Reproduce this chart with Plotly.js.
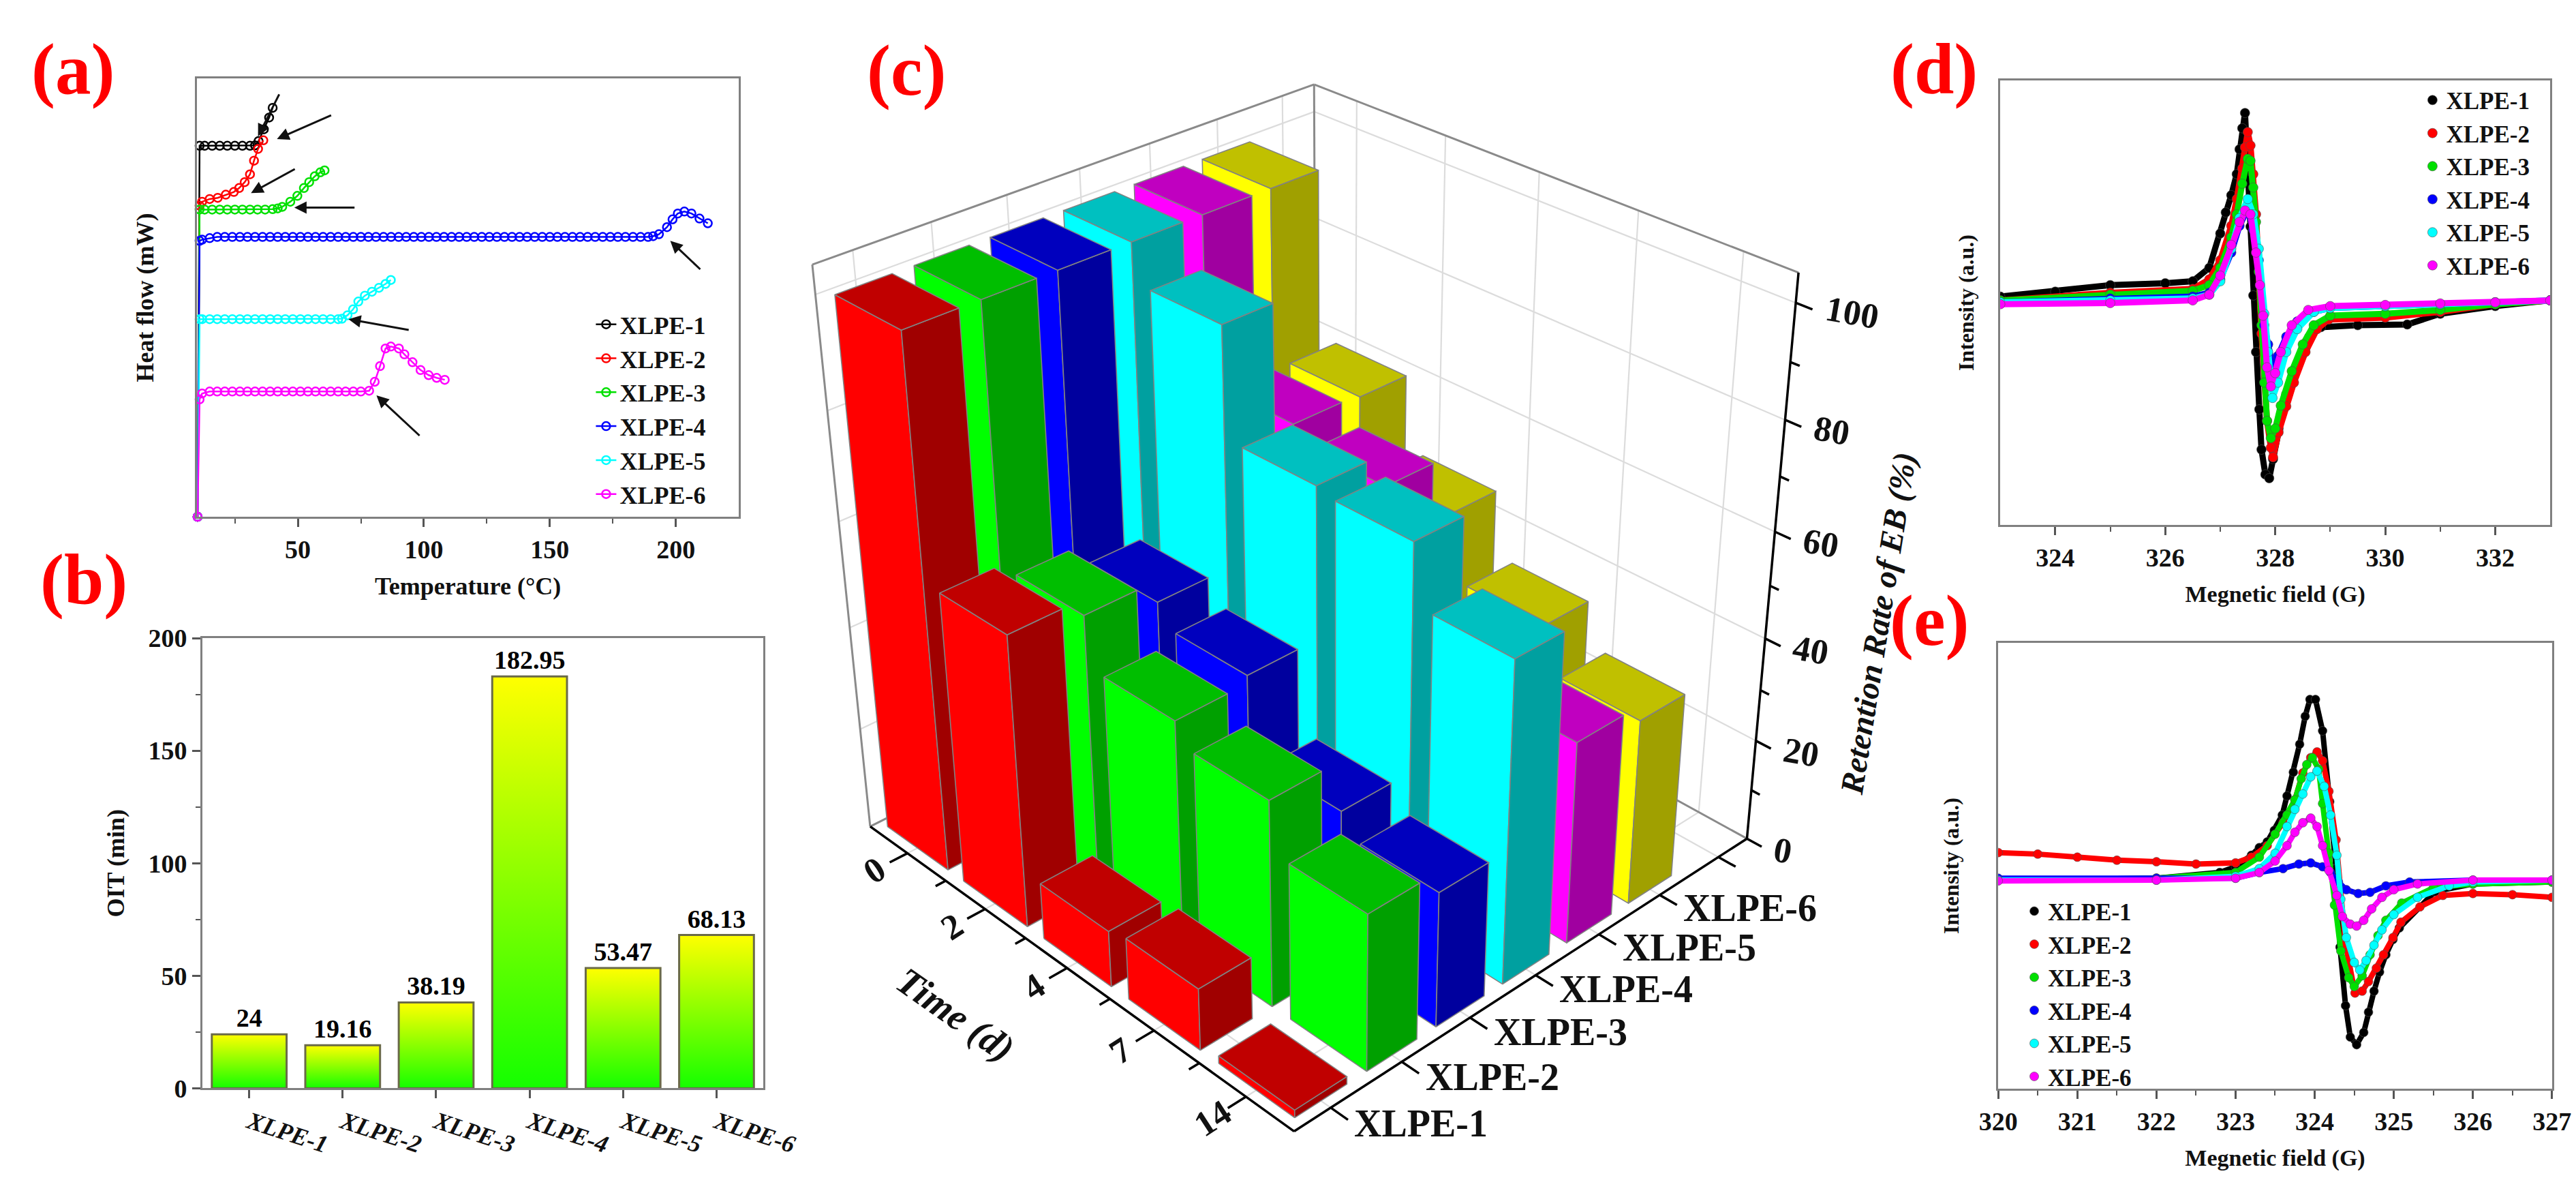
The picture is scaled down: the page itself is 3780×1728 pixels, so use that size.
<!DOCTYPE html>
<html><head><meta charset="utf-8">
<script src="https://cdn.plot.ly/plotly-3.0.1.min.js"></script>
<style>html,body{margin:0;padding:0;background:#fff;}#chart{width:3780px;height:1728px;}</style>
</head><body><div id="chart"></div>
<script>
// ================= DATA =================
const dscT1 = [10.2, 11, 13, 16, 19, 22, 25, 28, 31, 33, 34.4, 36.5, 38.6, 40];
const dscH1 = [0, 94.8, 94.8, 94.8, 94.8, 94.8, 94.8, 94.8, 94.8, 94.9, 96, 99, 102, 104.5];
const dscT2 = [10.2, 11, 12, 15, 18.2, 21.4, 24.6, 26.7, 28.9, 31, 32.6, 34.2, 36.3];
const dscH2 = [0, 79.5, 80.5, 81.2, 81.5, 82.3, 83, 84, 85.5, 87.5, 91, 94, 96.2];
const dscT3 = [10.2, 11, 13, 16, 19, 22, 25, 28, 31, 34, 37, 40, 42, 43.8, 47, 49.8, 52.4, 54.5, 56.7, 58.9, 60.6];
const dscH3 = [0, 78.5, 78.5, 78.5, 78.5, 78.5, 78.5, 78.5, 78.5, 78.5, 78.5, 78.6, 78.8, 79.2, 80.5, 82, 84, 85.5, 87, 88, 88.5];
const dscT4 = [10.2, 11, 12, 15, 18, 21, 24, 27, 30, 33, 36, 39, 42, 45, 48, 51, 54, 57, 60, 63, 66, 69, 72, 75, 78, 81, 84, 87, 90, 93, 96, 99, 102, 105, 108, 111, 114, 117, 120, 123, 126, 129, 132, 135, 138, 141, 144, 147, 150, 153, 156, 159, 162, 165, 168, 171, 174, 177, 180, 183, 186, 189, 191, 193.3, 196.5, 198.7, 200.8, 203.4, 206.2, 209.4, 212.7];
const dscH4 = [0, 70.5, 70.8, 71.2, 71.5, 71.5, 71.5, 71.5, 71.5, 71.5, 71.5, 71.5, 71.5, 71.5, 71.5, 71.5, 71.5, 71.5, 71.5, 71.5, 71.5, 71.5, 71.5, 71.5, 71.5, 71.5, 71.5, 71.5, 71.5, 71.5, 71.5, 71.5, 71.5, 71.5, 71.5, 71.5, 71.5, 71.5, 71.5, 71.5, 71.5, 71.5, 71.5, 71.5, 71.5, 71.5, 71.5, 71.5, 71.5, 71.5, 71.5, 71.5, 71.5, 71.5, 71.5, 71.5, 71.5, 71.5, 71.5, 71.5, 71.5, 71.5, 71.7, 72.2, 74, 76, 77.5, 78, 77.5, 76.2, 75];
const dscT5 = [10.2, 11, 12, 15, 18, 21, 24, 27, 30, 33, 36, 39, 42, 45, 48, 51, 54, 57, 60, 63, 66, 67.5, 69.7, 71.9, 74, 76.6, 79.4, 82.2, 84.8, 86.9];
const dscH5 = [0, 50.5, 50.5, 50.5, 50.5, 50.5, 50.5, 50.5, 50.5, 50.5, 50.5, 50.5, 50.5, 50.5, 50.5, 50.5, 50.5, 50.5, 50.5, 50.5, 50.5, 50.6, 51.5, 53, 55, 56.5, 57.5, 58.5, 59.5, 60.5];
const dscT6 = [10.2, 11, 12, 15, 18, 21, 24, 27, 30, 33, 36, 39, 42, 45, 48, 51, 54, 57, 60, 63, 66, 69, 72, 75, 78.3, 80.5, 82.6, 84.8, 86.9, 90.1, 92.3, 95.5, 98.7, 101.9, 105.1, 108.3];
const dscH6 = [0, 30, 31.5, 32, 32, 32, 32, 32, 32, 32, 32, 32, 32, 32, 32, 32, 32, 32, 32, 32, 32, 32, 32, 32, 32.2, 34.5, 38.5, 43, 43.5, 43, 41.5, 39.5, 37.5, 36.2, 35.5, 35];

const sampleNames = ['XLPE-1', 'XLPE-2', 'XLPE-3', 'XLPE-4', 'XLPE-5', 'XLPE-6'];
const oitValues = [24, 19.16, 38.19, 182.95, 53.47, 68.13];
const oitLabels = ['24', '19.16', '38.19', '182.95', '53.47', '68.13'];

const timeLabels = ['0', '2', '4', '7', '14'];
const retXLPE1 = [100, 56, 11, 12, 1.5];
const retXLPE2 = [100, 53, 43.5, 39.5, 30];
const retXLPE3 = [100, 49, 45, 30, 26];
const retXLPE4 = [100, 93, 73, 72, 61];
const retXLPE5 = [100, 70, 67, 35, 39];
const retXLPE6 = [100, 69.5, 56, 44, 36];
const zTicks = [0, 20, 40, 60, 80, 100];
const zMinorTicks = [10, 30, 50, 70, 90];

const dX1 = [323, 324, 325, 326, 326.5, 326.8, 327.0, 327.1, 327.2, 327.3, 327.35, 327.4, 327.45, 327.55, 327.6, 327.65, 327.71, 327.75, 327.82, 327.89, 327.96, 328.06, 328.2, 328.41, 328.62, 328.83, 329.5, 330.4, 331, 332, 333];
const dY1 = [59.7, 61, 62.7, 63.2, 63.7, 67.2, 76.2, 81.7, 86.2, 91.7, 98.2, 103.7, 107.7, 78, 60, 45.2, 30.2, 19.7, 13.2, 12.2, 17.2, 25.2, 34.2, 42.2, 49.2, 51.7, 52.2, 52.4, 55.2, 57.2, 58.7];
const dX2 = [323, 325, 326.5, 326.8, 327.0, 327.2, 327.3, 327.4, 327.45, 327.5, 327.55, 327.6, 327.65, 327.75, 327.85, 327.92, 327.96, 328.06, 328.2, 328.34, 328.55, 328.76, 328.97, 330, 331, 332, 333];
const dY2 = [58.7, 60.7, 61.7, 64.2, 69.2, 78.2, 85.2, 93.2, 98.7, 102.7, 99.2, 91.7, 81.2, 50, 27.2, 20.2, 17.7, 24.2, 31, 37.2, 45.2, 51.2, 53.7, 54.2, 55.7, 57.7, 58.7];
const dX3 = [323, 325, 326.5, 326.8, 327.0, 327.2, 327.3, 327.4, 327.5, 327.55, 327.6, 327.65, 327.7, 327.75, 327.8, 327.85, 327.92, 328.0, 328.1, 328.3, 328.5, 328.7, 329, 330, 331, 332, 333];
const dY3 = [58.7, 60.2, 61.2, 62.7, 67.2, 75.2, 81.2, 89.2, 95.7, 95.2, 88.2, 79.2, 66.2, 52.2, 37.2, 27.2, 22.7, 25.2, 31.2, 40.2, 47.2, 52.2, 54.7, 55.2, 56.2, 57.7, 58.7];
const dX4 = [323, 325, 326.5, 326.8, 327.0, 327.2, 327.35, 327.5, 327.6, 327.7, 327.8, 327.87, 327.95, 328.05, 328.2, 328.4, 328.7, 329, 330, 331, 332, 333];
const dY4 = [58.2, 59.2, 59.7, 60.7, 64.2, 71.2, 78.2, 82.7, 77.2, 69.2, 52.2, 47.2, 41.7, 44.2, 49.2, 53.2, 55.7, 56.7, 57.2, 57.7, 58.2, 58.7];
const dX5 = [323, 325, 326.5, 326.8, 327.0, 327.2, 327.35, 327.5, 327.6, 327.7, 327.8, 327.87, 327.95, 328.05, 328.2, 328.4, 328.7, 329, 330, 331, 332, 333];
const dY5 = [58.2, 58.7, 59.2, 60.2, 63.7, 72.2, 80.2, 85.2, 81.2, 72.2, 55.2, 45.2, 33.2, 37.2, 45.2, 51.2, 55.7, 56.7, 57.2, 57.7, 58.2, 58.7];
const dX6 = [323, 325, 326.5, 326.8, 327.0, 327.2, 327.35, 327.45, 327.55, 327.65, 327.72, 327.78, 327.85, 327.92, 328.0, 328.1, 328.3, 328.6, 329, 330, 331, 332, 333];
const dY6 = [57.7, 58, 58.7, 60.2, 65.2, 73.2, 79.2, 82.2, 81.2, 71.2, 62.7, 54.7, 41.2, 36.2, 39.7, 45.2, 52.2, 56.2, 57.2, 57.5, 57.9, 58.2, 58.7];

const eX1 = [320, 322, 322.8, 323.0, 323.2, 323.3, 323.4, 323.49, 323.59, 323.65, 323.73, 323.81, 323.88, 323.94, 324.01, 324.1, 324.19, 324.27, 324.32, 324.39, 324.45, 324.53, 324.62, 324.68, 324.75, 324.82, 324.9, 324.99, 325.07, 325.52, 326.0, 327];
const eY1 = [54.5, 55, 56.5, 58, 61, 63, 64.5, 67.5, 71.5, 76.5, 82.7, 90, 97.3, 101.7, 101.7, 93.5, 75, 57.5, 37, 21.7, 13.5, 11.5, 14.7, 20, 25.5, 30.5, 35, 39, 42, 51.5, 53.5, 54];
const eX2 = [320, 320.5, 321, 321.5, 322, 322.5, 323, 323.2, 323.4, 323.6, 323.75, 323.85, 323.95, 324.03, 324.1, 324.18, 324.27, 324.39, 324.51, 324.6, 324.68, 324.78, 324.87, 324.99, 325.09, 325.33, 325.62, 326.0, 326.5, 327];
const eY2 = [61.7, 61.3, 60.5, 59.7, 59.3, 58.7, 59, 60.5, 63.5, 69.5, 75.5, 82.5, 86.5, 88, 85.7, 77.7, 65, 37.7, 25, 25.5, 28, 31.5, 35, 39.5, 43.5, 47.5, 50.5, 51, 50.7, 50];
const eX3 = [320, 322, 323, 323.3, 323.5, 323.65, 323.75, 323.83, 323.9, 323.97, 324.05, 324.1, 324.18, 324.25, 324.33, 324.43, 324.5, 324.6, 324.7, 324.8, 324.9, 325.1, 325.5, 326, 327];
const eY3 = [54.5, 55, 56.5, 60.5, 66.5, 71.5, 75.5, 81, 84.7, 86.5, 83.5, 74.5, 61.5, 48, 36, 29, 26.7, 29.5, 35, 40, 44, 48.5, 52.5, 53.5, 54];
const eX4 = [320, 322, 323, 323.3, 323.6, 323.8, 323.95, 324.1, 324.2, 324.3, 324.4, 324.55, 324.7, 324.9, 325.2, 326, 327];
const eY4 = [55, 55, 55, 56.5, 57.5, 58.7, 59, 58, 56.5, 54, 52, 51, 51.3, 53, 54, 54.5, 54.5];
const eX5 = [320, 322, 323, 323.3, 323.5, 323.65, 323.75, 323.85, 323.95, 324.03, 324.12, 324.2, 324.28, 324.33, 324.4, 324.5, 324.57, 324.65, 324.75, 324.85, 325, 325.3, 325.7, 326, 327];
const eY5 = [54.5, 54.5, 55.5, 57.5, 61.5, 68.5, 73, 77, 81.5, 83, 79, 71.5, 61, 49.5, 39.5, 33, 31, 33.5, 37.5, 41.5, 45.5, 50, 53, 54, 54.5];
const eX6 = [320, 322, 323, 323.3, 323.5, 323.65, 323.75, 323.85, 323.95, 324.03, 324.1, 324.18, 324.28, 324.35, 324.45, 324.53, 324.62, 324.72, 324.85, 325, 325.3, 326, 327];
const eY6 = [54.3, 54.5, 55, 56.5, 59.5, 63.5, 67, 69.5, 70.7, 68.5, 63.5, 57, 50.5, 45, 43, 42.5, 44, 47, 50, 52, 53.5, 54.5, 54.5];

// ================= STYLE =================
const SERIF = 'Liberation Serif, Times New Roman, serif';
const lineColors = ['#000000', '#FF0000', '#00E000', '#0000FF', '#00FFFF', '#FF00FF'];
const barColors = [
  {f: '#FF0000', s: '#A00000', t: '#C00000'},
  {f: '#00FF00', s: '#00A000', t: '#00BE00'},
  {f: '#0000FF', s: '#00009E', t: '#0000BE'},
  {f: '#00FFFF', s: '#00A0A0', t: '#00C0C0'},
  {f: '#FF00FF', s: '#A000A0', t: '#C000C0'},
  {f: '#FFFF00', s: '#A0A000', t: '#C0C000'}
];
const ZMAX = 105;
const NSLOT = 7;             // sample axis has 7 slots (6 samples + one empty slot)
const HALF_T = 0.40, HALF_S = 0.36;
// camera calibration for panel (c): [X, Y, Z (fractions of the box), pixel x, pixel y]
const CAL = [[0, 0, 0, 1275, 1215], [1, 0, 0, 1897, 1660], [1, 1, 0, 2561, 1228], [0, 0, 1, 1193, 387],
  [0, 1, 1, 1927, 124], [1, 1, 1, 2638, 399], [1, 1, 100 / 105, 2635, 445], [1, 1, 60 / 105, 2606, 782],
  [1, 1, 20 / 105, 2580, 1087], [0.18, 0.02, 0, 1394, 1274]];

function solveDLT(pts) {
  const n = 11, M = [...Array(n)].map(() => Array(n + 1).fill(0));
  const rows = [];
  pts.forEach(([X, Y, Z, u, v]) => {
    const U = (u - 1900) / 1000, V = (v - 900) / 1000;
    rows.push([[X, Y, Z, 1, 0, 0, 0, 0, -U * X, -U * Y, -U * Z], U]);
    rows.push([[0, 0, 0, 0, X, Y, Z, 1, -V * X, -V * Y, -V * Z], V]);
  });
  rows.forEach(([a, b]) => { for (let i = 0; i < n; i++) { for (let j = 0; j < n; j++) M[i][j] += a[i] * a[j]; M[i][n] += a[i] * b; } });
  for (let c = 0; c < n; c++) {
    let p = c; for (let r = c + 1; r < n; r++) if (Math.abs(M[r][c]) > Math.abs(M[p][c])) p = r;
    const tmp = M[c]; M[c] = M[p]; M[p] = tmp;
    for (let r = 0; r < n; r++) { if (r === c) continue; const f = M[r][c] / M[c][c]; for (let k = c; k <= n; k++) M[r][k] -= f * M[c][k]; }
  }
  return M.map((row, i) => row[n] / row[i]);
}
const PM = solveDLT(CAL);
function toPx(X, Y, Z) {
  const w = PM[8] * X + PM[9] * Y + PM[10] * Z + 1;
  return [(PM[0] * X + PM[1] * Y + PM[2] * Z + PM[3]) / w * 1000 + 1900, (PM[4] * X + PM[5] * Y + PM[6] * Z + PM[7]) / w * 1000 + 900];
}
const NT = timeLabels.length;
const tX = i => (i + 0.5) / NT, sY = j => (j + 0.5) / NSLOT, zN = v => v / ZMAX;

const traces = [];
const OV = {xaxis: 'x5', yaxis: 'y5', hoverinfo: 'skip', showlegend: false};
function segTrace(segs, color, width) {
  const xs = [], ys = [];
  segs.forEach(([a, b]) => { const pa = toPx(...a), pb = toPx(...b); xs.push(pa[0], pb[0], null); ys.push(pa[1], pb[1], null); });
  return Object.assign({type: 'scatter', mode: 'lines', x: xs, y: ys, line: {color: color, width: width}}, OV);
}
function polyTrace(pts, fill) {
  const xs = [], ys = [];
  pts.forEach(p => { const q = toPx(...p); xs.push(q[0]); ys.push(q[1]); });
  xs.push(xs[0]); ys.push(ys[0]);
  return Object.assign({type: 'scatter', mode: 'lines', x: xs, y: ys, fill: 'toself', fillcolor: fill,
    line: {color: '#828282', width: 1.6}}, OV);
}

// ---- (c) grid, walls
const grid = [];
for (let j = 0; j < NSLOT; j++) { grid.push([[0, sY(j), 0], [0, sY(j), 1]]); grid.push([[0, sY(j), 0], [1, sY(j), 0]]); }
for (let i = 0; i < NT; i++) { grid.push([[tX(i), 1, 0], [tX(i), 1, 1]]); grid.push([[tX(i), 0, 0], [tX(i), 1, 0]]); }
zTicks.forEach(v => { grid.push([[0, 0, zN(v)], [0, 1, zN(v)]]); grid.push([[0, 1, zN(v)], [1, 1, zN(v)]]); });
traces.push(segTrace(grid, '#dcdcdc', 2.2));
traces.push(segTrace([[[0, 0, 0], [0, 0, 1]], [[0, 1, 0], [0, 1, 1]], [[0, 0, 1], [0, 1, 1]], [[0, 1, 1], [1, 1, 1]],
  [[0, 0, 0], [0, 1, 0]], [[0, 1, 0], [1, 1, 0]]], '#8a8a8a', 3));

// ---- (c) bars (back to front)
const retAll = [retXLPE1, retXLPE2, retXLPE3, retXLPE4, retXLPE5, retXLPE6];
for (let i = 0; i < NT; i++) {
  for (let j = retAll.length - 1; j >= 0; j--) {
    const h = zN(retAll[j][i]), c = barColors[j];
    const x0 = (i + 0.5 - HALF_T) / NT, x1 = (i + 0.5 + HALF_T) / NT;
    const y0 = (j + 0.5 - HALF_S) / NSLOT, y1 = (j + 0.5 + HALF_S) / NSLOT;
    traces.push(polyTrace([[x0, y0, 0], [x1, y0, 0], [x1, y0, h], [x0, y0, h]], c.f));
    traces.push(polyTrace([[x1, y0, 0], [x1, y1, 0], [x1, y1, h], [x1, y0, h]], c.s));
    traces.push(polyTrace([[x0, y0, h], [x1, y0, h], [x1, y1, h], [x0, y1, h]], c.t));
  }
}
// ---- (c) axes and ticks
const axSegs = [[[0, 0, 0], [1, 0, 0]], [[1, 0, 0], [1, 1, 0]], [[1, 1, 0], [1, 1, 1]]];
for (let i = 0; i < NT; i++) axSegs.push([[tX(i), 0, 0], [tX(i), -0.035, 0]]);
for (let i = 1; i < NT; i++) axSegs.push([[i / NT, 0, 0], [i / NT, -0.02, 0]]);
for (let j = 0; j < NSLOT; j++) axSegs.push([[1, sY(j), 0], [1.035, sY(j), 0]]);
zTicks.forEach(v => axSegs.push([[1, 1, zN(v)], [1.03, 1, zN(v)]]));
zMinorTicks.forEach(v => axSegs.push([[1, 1, zN(v)], [1.017, 1, zN(v)]]));
traces.push(segTrace(axSegs, '#000000', 3.5));

// ---- (a)
const dscT = [dscT1, dscT2, dscT3, dscT4, dscT5, dscT6];
const dscH = [dscH1, dscH2, dscH3, dscH4, dscH5, dscH6];
sampleNames.forEach((n, k) => {
  traces.push({type: 'scatter', mode: 'lines+markers', x: dscT[k], y: dscH[k], name: n,
    xaxis: 'x', yaxis: 'y', legend: 'legend',
    line: {color: lineColors[k], width: 2.5},
    marker: {symbol: 'circle-open', size: 12, color: lineColors[k], line: {width: 2.5, color: lineColors[k]}},
    hoverinfo: 'skip', cliponaxis: false});
});
// ---- (b)
const barIdx = sampleNames.map((_, i) => i);
traces.push({type: 'bar', x: barIdx, y: oitValues, text: oitLabels, textposition: 'outside',
  textfont: {family: SERIF, size: 38, color: '#000', weight: 'bold'},
  xaxis: 'x2', yaxis: 'y2', width: 0.8, showlegend: false, cliponaxis: false,
  marker: {color: 'rgba(0,0,0,0)', line: {color: '#6a6a48', width: 3}}, hoverinfo: 'skip'});
// ---- (d), (e)
const dX = [dX1, dX2, dX3, dX4, dX5, dX6], dY = [dY1, dY2, dY3, dY4, dY5, dY6];
const eX = [eX1, eX2, eX3, eX4, eX5, eX6], eY = [eY1, eY2, eY3, eY4, eY5, eY6];
sampleNames.forEach((n, k) => {
  traces.push({type: 'scatter', mode: 'lines', x: dX[k], y: dY[k], xaxis: 'x3', yaxis: 'y3', showlegend: false,
    line: {color: lineColors[k], width: 9}, hoverinfo: 'skip'});
  traces.push({type: 'scatter', mode: 'markers', x: dX[k], y: dY[k], xaxis: 'x3', yaxis: 'y3', name: n, legend: 'legend2',
    marker: {size: 14, color: lineColors[k], line: {width: 1, color: 'rgba(80,80,80,0.6)'}}, hoverinfo: 'skip'});
});
sampleNames.forEach((n, k) => {
  traces.push({type: 'scatter', mode: 'lines', x: eX[k], y: eY[k], xaxis: 'x4', yaxis: 'y4', showlegend: false,
    line: {color: lineColors[k], width: 8}, hoverinfo: 'skip'});
  traces.push({type: 'scatter', mode: 'markers', x: eX[k], y: eY[k], xaxis: 'x4', yaxis: 'y4', name: n, legend: 'legend3',
    marker: {size: 13, color: lineColors[k], line: {width: 1, color: 'rgba(80,80,80,0.6)'}}, hoverinfo: 'skip'});
});

// ================= LAYOUT =================
const tickFont = {family: SERIF, size: 38, color: '#111', weight: 'bold'};
const titleFont = {family: SERIF, size: 36, color: '#111', weight: 'bold'};
const frame = {showline: true, linecolor: '#808080', linewidth: 3, mirror: true, showgrid: false, zeroline: false};

const gradSrc = 'data:image/svg+xml;utf8,' + encodeURIComponent(
  '<svg xmlns="http://www.w3.org/2000/svg" width="10" height="100" viewBox="0 0 10 100" preserveAspectRatio="none">' +
  '<defs><linearGradient id="g" x1="0" y1="0" x2="0" y2="1"><stop offset="0" stop-color="#FFFF00"/>' +
  '<stop offset="1" stop-color="#14FF00"/></linearGradient></defs><rect width="10" height="100" fill="url(#g)"/></svg>');
const images = oitValues.map((v, i) => ({source: gradSrc, xref: 'x2', yref: 'y2', x: i - 0.4, y: v,
  sizex: 0.8, sizey: v, sizing: 'stretch', xanchor: 'left', yanchor: 'top', layer: 'below'}));

const annotations = [];
const panelLabels = [['(a)', 0.0283, 0.941], ['(b)', 0.0325, 0.508], ['(c)', 0.3519, 0.940], ['(d)', 0.7508, 0.941], ['(e)', 0.749, 0.473]];
panelLabels.forEach(p => annotations.push({text: p[0], x: p[1], y: p[2], xref: 'paper', yref: 'paper', showarrow: false,
  xanchor: 'center', yanchor: 'middle', font: {family: SERIF, size: 105, color: '#FF0000', weight: 'bold'}}));
const arrowsA = [[34.2, 97.2, 42.8, 108.2], [41.7, 96.5, 63.6, 102.7], [31.4, 82.7, 49.2, 89], [48.6, 79, 72.9, 79],
  [197.8, 70.5, 210.1, 63], [70.1, 50.5, 94.4, 47.7], [81.2, 31, 98.7, 20.5]];
arrowsA.forEach(a => annotations.push({x: a[0], y: a[1], ax: a[2], ay: a[3], xref: 'x', yref: 'y', axref: 'x', ayref: 'y',
  text: '', showarrow: true, arrowhead: 2, arrowsize: 1.2, arrowwidth: 3, arrowcolor: '#111'}));
// (c) labels
const c3Font = {family: SERIF, size: 52, color: '#111', weight: 'bold'};
function ann3(p, text, opts) {
  const q = toPx(...p);
  annotations.push(Object.assign({x: q[0], y: q[1], xref: 'x5', yref: 'y5', text: text, showarrow: false, font: c3Font}, opts));
}
timeLabels.forEach((t, i) => ann3([tX(i), -0.065, 0], t, {textangle: -33, xanchor: 'center', yanchor: 'middle'}));
sampleNames.forEach((s, j) => ann3([1.045, sY(j), 0], s, {xanchor: 'left', yanchor: 'middle', font: Object.assign({}, c3Font, {size: 56})}));
zTicks.forEach(v => ann3([1.045, 1, zN(v)], String(v), {xanchor: 'left', yanchor: 'middle', textangle: 10}));
ann3([0.47, -0.19, 0], 'Time (d)', {textangle: 35, xanchor: 'center', yanchor: 'middle',
  font: {family: SERIF, size: 56, color: '#111', weight: 'bold', style: 'italic'}});
ann3([1.2, 1.0, 0.5], 'Retention Rate of EB (%)', {textangle: -81, xanchor: 'center', yanchor: 'middle',
  font: {family: SERIF, size: 48, color: '#111', weight: 'bold', style: 'italic'}});

const layout = {
  width: 3780, height: 1728, margin: {l: 0, r: 0, t: 0, b: 0}, autosize: false,
  paper_bgcolor: '#fff', plot_bgcolor: 'rgba(0,0,0,0)', hovermode: false, dragmode: false,
  font: {family: SERIF},
  xaxis: Object.assign({}, frame, {domain: [0.0765, 0.2868], anchor: 'y', range: [10, 225], tickvals: [50, 100, 150, 200],
    ticks: 'outside', ticklen: 12, tickwidth: 3, tickcolor: '#555',
    minor: {tickvals: [25, 75, 125, 175], ticks: 'outside', ticklen: 7, tickwidth: 2, tickcolor: '#555'},
    tickfont: tickFont, title: {text: 'Temperature (°C)', font: titleFont, standoff: 22}}),
  yaxis: Object.assign({}, frame, {domain: [0.5613, 0.9334], anchor: 'x', range: [0, 112], showticklabels: false, ticks: '',
    title: {text: 'Heat flow (mW)', font: titleFont, standoff: 50}}),
  xaxis2: Object.assign({}, frame, {domain: [0.0786, 0.2963], anchor: 'y2', range: [-0.5, 5.5], tickvals: barIdx, ticktext: sampleNames,
    tickangle: 18, ticks: 'outside', ticklen: 12, tickwidth: 3, tickcolor: '#555',
    tickfont: {family: SERIF, size: 36, color: '#111', weight: 'bold', style: 'italic'}}),
  yaxis2: Object.assign({}, frame, {domain: [0.0761, 0.4583], anchor: 'x2', range: [0, 200], dtick: 50, ticks: 'outside',
    ticklen: 12, tickwidth: 3, tickcolor: '#555', minor: {dtick: 25, ticks: 'outside', ticklen: 7, tickwidth: 2, tickcolor: '#555'},
    tickfont: tickFont, title: {text: 'OIT (min)', font: titleFont, standoff: 24}}),
  xaxis3: Object.assign({}, frame, {domain: [0.7765, 0.99], anchor: 'y3', range: [323, 333], tickvals: [324, 326, 328, 330, 332],
    ticks: 'outside', ticklen: 12, tickwidth: 3, tickcolor: '#555',
    minor: {tickvals: [325, 327, 329, 331], ticks: 'outside', ticklen: 7, tickwidth: 2, tickcolor: '#555'},
    tickfont: tickFont, title: {text: 'Megnetic field (G)', font: {family: SERIF, size: 34, color: '#111', weight: 'bold'}, standoff: 22}}),
  yaxis3: Object.assign({}, frame, {domain: [0.5544, 0.9317], anchor: 'x3', range: [0, 116.2], showticklabels: false, ticks: '',
    title: {text: 'Intensity (a.u.)', font: {family: SERIF, size: 32, color: '#111', weight: 'bold'}, standoff: 26}}),
  xaxis4: Object.assign({}, frame, {domain: [0.7757, 0.9907], anchor: 'y4', range: [320, 327], dtick: 1,
    ticks: 'outside', ticklen: 12, tickwidth: 3, tickcolor: '#555',
    minor: {dtick: 0.5, ticks: 'outside', ticklen: 7, tickwidth: 2, tickcolor: '#555'},
    tickfont: tickFont, title: {text: 'Megnetic field (G)', font: {family: SERIF, size: 34, color: '#111', weight: 'bold'}, standoff: 22}}),
  yaxis4: Object.assign({}, frame, {domain: [0.0758, 0.4543], anchor: 'x4', range: [0, 116.5], showticklabels: false, ticks: '',
    title: {text: 'Intensity (a.u.)', font: {family: SERIF, size: 32, color: '#111', weight: 'bold'}, standoff: 45}}),
  xaxis5: {domain: [0, 1], anchor: 'y5', range: [0, 3780], visible: false, fixedrange: true},
  yaxis5: {domain: [0, 1], anchor: 'x5', range: [1728, 0], visible: false, fixedrange: true},
  legend: {x: 0.230, y: 0.742, xanchor: 'left', yanchor: 'top', bgcolor: 'rgba(0,0,0,0)', tracegroupgap: 0,
    font: {family: SERIF, size: 36, color: '#111', weight: 'bold'}},
  legend2: {x: 0.939, y: 0.932, xanchor: 'left', yanchor: 'top', bgcolor: 'rgba(0,0,0,0)', tracegroupgap: 0,
    font: {family: SERIF, size: 35, color: '#111', weight: 'bold'}},
  legend3: {x: 0.7844, y: 0.2435, xanchor: 'left', yanchor: 'top', bgcolor: 'rgba(0,0,0,0)', tracegroupgap: 0,
    font: {family: SERIF, size: 35, color: '#111', weight: 'bold'}},
  images: images,
  annotations: annotations
};

Plotly.newPlot('chart', traces, layout, {displayModeBar: false, staticPlot: true});
</script>
</body></html>
